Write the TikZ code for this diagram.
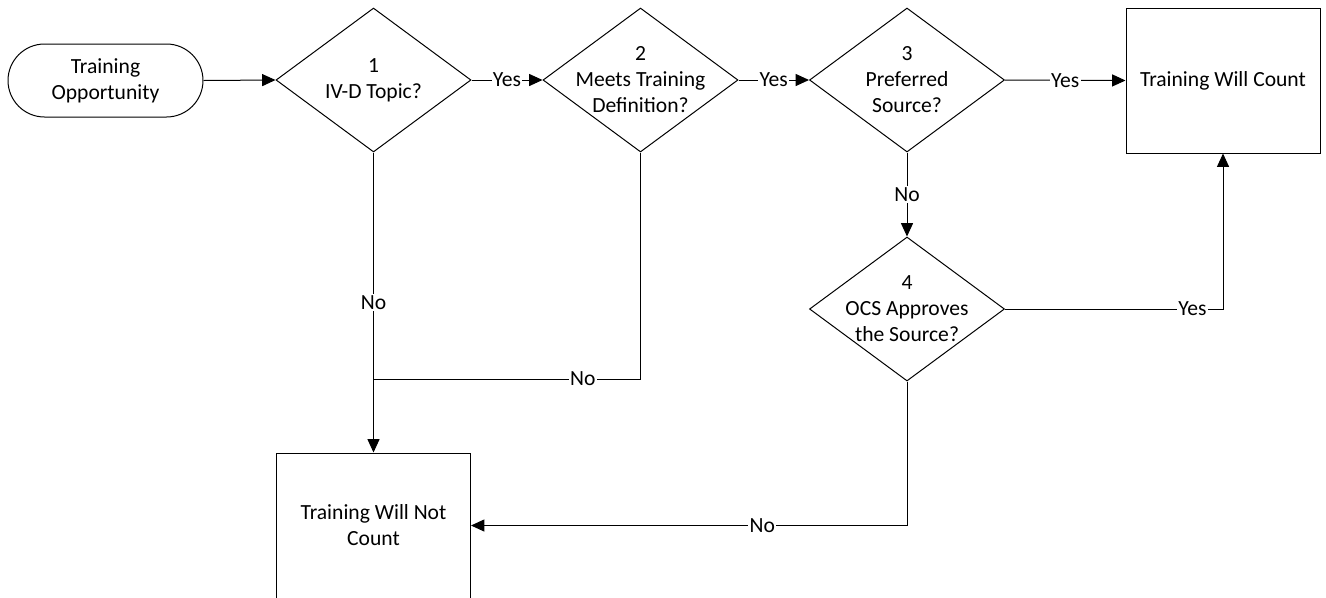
\documentclass[tikz,border=0pt]{standalone}
\usepackage{fontspec}
\setmainfont{Carlito}
\usetikzlibrary{shapes.geometric,arrows.meta}
\begin{document}
\begin{tikzpicture}[x=0.75pt,y=-0.75pt,
  every node/.style={font=\fontsize{16.2}{19.5}\selectfont, text=black},
  line/.style={draw=black, line width=0.75pt},
  arr/.style={line, -{Triangle[length=10pt,width=9pt]}},
  decision/.style={diamond, draw=black, line width=0.75pt, minimum width=146.25pt, minimum height=108pt, inner sep=0pt},
  procbox/.style={rectangle, draw=black, line width=0.75pt, minimum width=145.5pt, minimum height=108.75pt, inner sep=0pt, align=center},
  terminal/.style={rectangle, rounded corners=27.4pt, draw=black, line width=0.75pt, minimum width=146.25pt, minimum height=54.75pt, inner sep=0pt, align=center},
  lbl/.style={fill=white, inner sep=1pt}
]
\useasboundingbox (0,0) rectangle (1326,597);

\node[terminal] (start) at (105.5,80.5) {Training\\Opportunity};
\node[decision, label={[align=center]center:1\\IV-D Topic?}] (d1) at (373.5,80) {};
\node[decision, label={[align=center]center:2\\Meets Training\\Definition?}] (d2) at (640.5,80) {};
\node[decision, label={[align=center]center:3\\Preferred\\Source?}] (d3) at (907,80) {};
\node[decision, label={[align=center]center:4\\OCS Approves\\the Source?}] (d4) at (907,309) {};
\node[procbox] (count) at (1223,80.5) {Training Will Count};
\node[procbox] (nc) at (373.5,525.5) {Training Will Not\\Count};
\coordinate (j) at (373.5,379);

\draw[arr] (start.east) -- (d1.west);
\draw[arr] (d1.east) -- node[lbl]{Yes} (d2.west);
\draw[arr] (d2.east) -- node[lbl]{Yes} (d3.west);
\draw[arr] (d3.east) -- node[lbl]{Yes} (count.west);
\draw[arr] (d3.south) -- node[lbl]{No} (d4.north);
\draw[arr] (d4.east) -| node[lbl, pos=0.43]{Yes} (count.south);
\draw[arr] (d4.south) |- node[lbl, pos=0.666]{No} (nc.east);
\draw[arr] (d1.south) -- node[lbl]{No} (nc.north);
\draw[line] (d2.south) |- node[lbl, pos=0.608]{No} (j);
\end{tikzpicture}
\end{document}
